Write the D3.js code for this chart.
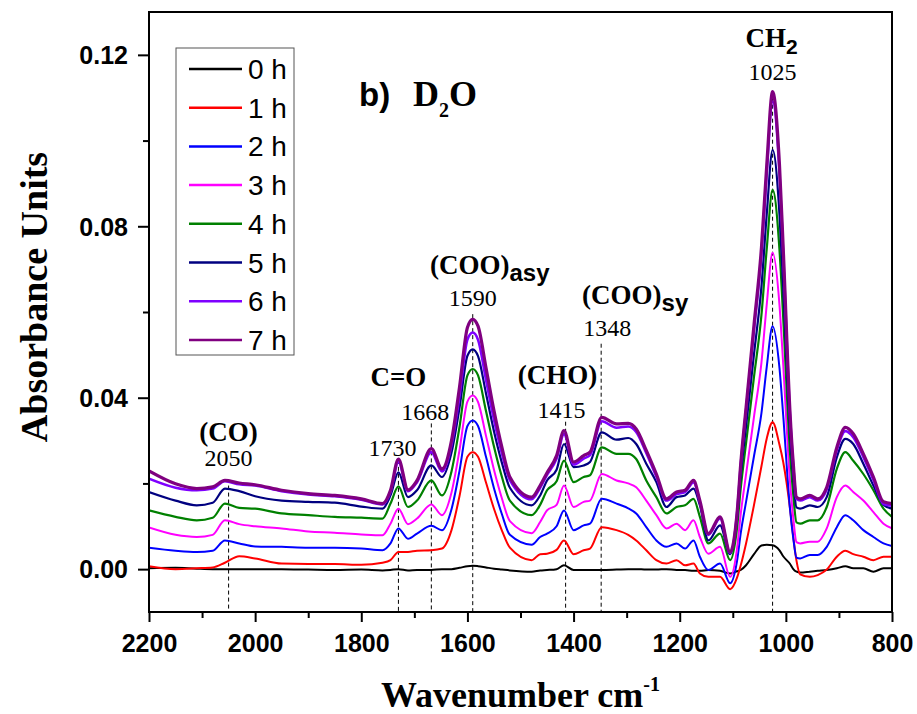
<!DOCTYPE html>
<html>
<head>
<meta charset="utf-8">
<script src="https://cdn.jsdelivr.net/npm/d3@7"></script>
<style>
  body { margin: 0; background: #fff; }
  svg { display: block; }
  .axis .tick text { font-family: "Liberation Sans", Arial, sans-serif; font-weight: bold; font-size: 25px; fill: #000; }
  .axis .tick line { stroke: #000; stroke-width: 2; }
  .serif { font-family: "Liberation Serif", "Times New Roman", serif; }
  .sans { font-family: "Liberation Sans", Arial, sans-serif; }
</style>
</head>
<body>
<svg id="chart" width="917" height="714"></svg>
<script>
(function(){
  // wavenumber grid (cm-1) shared by all spectra
  var wavenumbers = [2200, 2150, 2110, 2080, 2057, 2030, 2000, 1950, 1900, 1850,
    1800, 1760, 1745, 1730, 1712, 1695, 1668, 1648, 1630, 1615,
    1600, 1590, 1580, 1565, 1550, 1535, 1520, 1479, 1463, 1450,
    1432, 1418, 1400, 1381, 1369, 1347, 1319, 1297, 1282, 1263,
    1244, 1225, 1206, 1190, 1174, 1162, 1146, 1124, 1105, 1092,
    1085, 1075, 1060, 1046, 1036, 1025, 1012, 1005, 992, 986,
    980, 973, 955, 940, 923, 904, 888, 873, 854, 835,
    816, 800];

  var h0 = [0.0002, 0.0003, 0.0001, 0.0000, 0.0000, 0.0000, 0.0000, 0.0000, -0.0001, -0.0002,
    -0.0001, -0.0003, -0.0002, 0.0000, -0.0003, -0.0002, -0.0002, 0.0000, 0.0000, 0.0003,
    0.0007, 0.0008, 0.0007, 0.0004, 0.0001, -0.0001, -0.0003, -0.0006, -0.0003, -0.0002,
    0.0000, 0.0009, -0.0002, -0.0002, -0.0002, -0.0002, -0.0001, 0.0000, 0.0000, -0.0001,
    -0.0001, 0.0000, -0.0002, -0.0002, -0.0004, -0.0004, -0.0002, -0.0004, -0.0010, -0.0005,
    -0.0002, 0.0009, 0.0035, 0.0055, 0.0057, 0.0056, 0.0044, 0.0030, 0.0012, 0.0000,
    -0.0006, -0.0008, -0.0006, -0.0004, -0.0002, 0.0002, 0.0007, 0.0002, 0.0002, -0.0006,
    0.0002, 0.0002];

  var h1 = [0.0007, 0.0000, 0.0002, 0.0004, 0.0015, 0.0030, 0.0025, 0.0013, 0.0012, 0.0012,
    0.0010, 0.0015, 0.0021, 0.0040, 0.0040, 0.0043, 0.0044, 0.0048, 0.0091, 0.0170,
    0.0262, 0.0273, 0.0262, 0.0202, 0.0141, 0.0090, 0.0050, 0.0021, 0.0035, 0.0036,
    0.0045, 0.0067, 0.0035, 0.0044, 0.0048, 0.0098, 0.0091, 0.0080, 0.0067, 0.0044,
    0.0021, 0.0013, 0.0021, 0.0009, 0.0013, -0.0010, -0.0018, -0.0018, -0.0047, -0.0020,
    0.0009, 0.0060, 0.0150, 0.0240, 0.0305, 0.0343, 0.0290, 0.0250, 0.0140, 0.0075,
    0.0020, -0.0012, -0.0018, -0.0014, -0.0001, 0.0029, 0.0043, 0.0035, 0.0029, 0.0021,
    0.0029, 0.0029];

  var h2 = [0.0050, 0.0043, 0.0040, 0.0043, 0.0067, 0.0060, 0.0053, 0.0052, 0.0050, 0.0050,
    0.0048, 0.0044, 0.0060, 0.0095, 0.0071, 0.0083, 0.0101, 0.0091, 0.0140, 0.0229,
    0.0334, 0.0347, 0.0334, 0.0262, 0.0189, 0.0128, 0.0080, 0.0057, 0.0075, 0.0083,
    0.0100, 0.0137, 0.0091, 0.0102, 0.0106, 0.0164, 0.0153, 0.0142, 0.0130, 0.0098,
    0.0067, 0.0052, 0.0060, 0.0048, 0.0067, 0.0029, -0.0002, 0.0013, -0.0033, 0.0019,
    0.0084, 0.0157, 0.0264, 0.0364, 0.0472, 0.0567, 0.0469, 0.0359, 0.0138, 0.0072,
    0.0027, 0.0025, 0.0033, 0.0033, 0.0052, 0.0098, 0.0126, 0.0114, 0.0091, 0.0075,
    0.0060, 0.0054];

  var h3 = [0.0097, 0.0080, 0.0075, 0.0080, 0.0114, 0.0105, 0.0100, 0.0095, 0.0088, 0.0085,
    0.0081, 0.0079, 0.0106, 0.0141, 0.0105, 0.0118, 0.0151, 0.0126, 0.0179, 0.0277,
    0.0391, 0.0405, 0.0390, 0.0311, 0.0232, 0.0165, 0.0112, 0.0084, 0.0110, 0.0137,
    0.0150, 0.0195, 0.0145, 0.0157, 0.0160, 0.0222, 0.0207, 0.0200, 0.0191, 0.0160,
    0.0126, 0.0095, 0.0106, 0.0091, 0.0114, 0.0075, 0.0036, 0.0052, -0.0018, 0.0048,
    0.0129, 0.0221, 0.0356, 0.0482, 0.0618, 0.0738, 0.0616, 0.0478, 0.0201, 0.0119,
    0.0063, 0.0060, 0.0064, 0.0064, 0.0095, 0.0168, 0.0195, 0.0180, 0.0160, 0.0133,
    0.0106, 0.0095];

  var h4 = [0.0137, 0.0122, 0.0114, 0.0120, 0.0153, 0.0143, 0.0141, 0.0130, 0.0126, 0.0122,
    0.0120, 0.0118, 0.0153, 0.0193, 0.0145, 0.0160, 0.0207, 0.0172, 0.0228, 0.0331,
    0.0452, 0.0467, 0.0452, 0.0369, 0.0286, 0.0215, 0.0160, 0.0126, 0.0150, 0.0184,
    0.0205, 0.0253, 0.0203, 0.0215, 0.0219, 0.0284, 0.0269, 0.0269, 0.0257, 0.0207,
    0.0168, 0.0130, 0.0145, 0.0149, 0.0164, 0.0122, 0.0060, 0.0083, 0.0021, 0.0096,
    0.0189, 0.0294, 0.0449, 0.0593, 0.0748, 0.0885, 0.0745, 0.0587, 0.0268, 0.0173,
    0.0109, 0.0106, 0.0114, 0.0114, 0.0145, 0.0234, 0.0273, 0.0253, 0.0222, 0.0184,
    0.0141, 0.0122];

  var h5 = [0.0180, 0.0160, 0.0149, 0.0155, 0.0188, 0.0182, 0.0170, 0.0160, 0.0157, 0.0155,
    0.0146, 0.0141, 0.0172, 0.0226, 0.0168, 0.0184, 0.0242, 0.0215, 0.0272, 0.0376,
    0.0498, 0.0513, 0.0497, 0.0410, 0.0322, 0.0248, 0.0190, 0.0149, 0.0172, 0.0207,
    0.0232, 0.0292, 0.0238, 0.0242, 0.0250, 0.0319, 0.0302, 0.0306, 0.0292, 0.0246,
    0.0203, 0.0145, 0.0168, 0.0172, 0.0188, 0.0149, 0.0067, 0.0102, 0.0035, 0.0117,
    0.0219, 0.0333, 0.0502, 0.0659, 0.0828, 0.0978, 0.0827, 0.0657, 0.0315, 0.0213,
    0.0144, 0.0141, 0.0149, 0.0145, 0.0168, 0.0261, 0.0304, 0.0292, 0.0246, 0.0195,
    0.0150, 0.0141];

  var h6 = [0.0211, 0.0190, 0.0184, 0.0188, 0.0205, 0.0198, 0.0195, 0.0182, 0.0174, 0.0170,
    0.0162, 0.0151, 0.0180, 0.0250, 0.0182, 0.0203, 0.0273, 0.0228, 0.0290, 0.0403,
    0.0536, 0.0552, 0.0535, 0.0442, 0.0349, 0.0270, 0.0208, 0.0163, 0.0190, 0.0220,
    0.0258, 0.0315, 0.0244, 0.0258, 0.0266, 0.0345, 0.0330, 0.0333, 0.0320, 0.0271,
    0.0216, 0.0160, 0.0175, 0.0180, 0.0202, 0.0156, 0.0080, 0.0118, 0.0038, 0.0130,
    0.0243, 0.0371, 0.0559, 0.0735, 0.0924, 0.1091, 0.0923, 0.0734, 0.0354, 0.0240,
    0.0164, 0.0160, 0.0168, 0.0160, 0.0186, 0.0278, 0.0322, 0.0308, 0.0262, 0.0208,
    0.0152, 0.0148];

  var h7 = [0.0229, 0.0199, 0.0188, 0.0192, 0.0207, 0.0201, 0.0197, 0.0184, 0.0176, 0.0172,
    0.0164, 0.0153, 0.0184, 0.0257, 0.0185, 0.0207, 0.0281, 0.0234, 0.0300, 0.0424,
    0.0564, 0.0583, 0.0567, 0.0470, 0.0370, 0.0284, 0.0215, 0.0168, 0.0195, 0.0225,
    0.0265, 0.0323, 0.0250, 0.0265, 0.0273, 0.0354, 0.0339, 0.0340, 0.0327, 0.0277,
    0.0222, 0.0164, 0.0180, 0.0184, 0.0207, 0.0160, 0.0083, 0.0122, 0.0040, 0.0130,
    0.0246, 0.0377, 0.0570, 0.0750, 0.0943, 0.1114, 0.0943, 0.0750, 0.0362, 0.0246,
    0.0168, 0.0164, 0.0172, 0.0164, 0.0191, 0.0284, 0.0331, 0.0316, 0.0269, 0.0215,
    0.0157, 0.0153];

  var seriesNames = ['0 h', '1 h', '2 h', '3 h', '4 h', '5 h', '6 h', '7 h'];
  var seriesValues = [h0, h1, h2, h3, h4, h5, h6, h7];

  var xTicks = [2200, 2000, 1800, 1600, 1400, 1200, 1000, 800];
  var xMinorTicks = [2100, 1900, 1700, 1500, 1300, 1100, 900];
  var yTicks = [0.00, 0.04, 0.08, 0.12];
  var yMinorTicks = [0.02, 0.06, 0.10];

  // band assignments: marked wavenumbers and group names
  var bandPositions = [2050, 1730, 1668, 1590, 1415, 1348, 1025];
  var groupNames = ['(CO)', 'C=O', '(COO)', '(CHO)', '(COO)', 'CH'];
  var groupSubs = ['', '', 'asy', '', 'sy', '2'];
  var groupBands = [2050, 1730, 1590, 1415, 1348, 1025];

  // styles / layout
  var colors = ['#000000', '#ff0000', '#0000ff', '#ff00ff', '#008000', '#000080', '#7f00ff', '#800080'];
  var widths = [2, 2, 2, 2, 2.2, 2.2, 2.6, 3.2];
  var bandTop = [0.0195, 0.0255, 0.0340, 0.0595, 0.0344, 0.0526, 0.1100];
  var bandLabelLevel = [0.0240, 0.0265, 0.0349, 0.0614, 0.0353, 0.0544, 0.1142];
  var bandLabelShift = [0, -6, -6, 0, -4, 6, 0];
  var groupLevel = [0.0300, 0.0428, 0.0688, 0.0433, 0.0619, 0.1219];
  var groupShift = [0, 0, 17, -8, 34, -1];

  var left = 149, right = 892, top = 12, bottom = 612;

  var svg = d3.select('#chart');

  var x = d3.scaleLinear().domain([2200, 800]).range([left, right]);
  var y = d3.scaleLinear().domain([-0.01, 0.13]).range([bottom, top]);

  svg.append('defs').append('clipPath').attr('id', 'plot-clip')
    .append('rect')
    .attr('x', left).attr('y', top)
    .attr('width', right - left).attr('height', bottom - top);

  // Axes
  var xAxis = svg.append('g')
    .attr('class', 'axis')
    .attr('transform', 'translate(0,' + bottom + ')')
    .call(d3.axisBottom(x).tickValues(xTicks).tickSize(10).tickFormat(d3.format('d')));
  xAxis.select('.domain').remove();
  xAxis.selectAll('.tick text').attr('y', 40).attr('dy', 0);

  var xMinor = svg.append('g')
    .attr('class', 'axis')
    .attr('transform', 'translate(0,' + bottom + ')')
    .call(d3.axisBottom(x).tickValues(xMinorTicks).tickSize(6).tickFormat(''));
  xMinor.select('.domain').remove();

  var yAxis = svg.append('g')
    .attr('class', 'axis')
    .attr('transform', 'translate(' + left + ',0)')
    .call(d3.axisLeft(y).tickValues(yTicks).tickSize(11).tickFormat(d3.format('.2f')));
  yAxis.select('.domain').remove();
  yAxis.selectAll('.tick text').attr('x', -21).attr('dy', '0.35em');

  var yMinor = svg.append('g')
    .attr('class', 'axis')
    .attr('transform', 'translate(' + left + ',0)')
    .call(d3.axisLeft(y).tickValues(yMinorTicks).tickSize(6).tickFormat(''));
  yMinor.select('.domain').remove();

  // Band marker lines
  svg.append('g')
    .selectAll('line')
    .data(bandPositions)
    .enter()
    .append('line')
    .attr('x1', function(d) {return x(d);})
    .attr('x2', function(d) {return x(d);})
    .attr('y1', function(d, i) {return y(bandTop[i]);})
    .attr('y2', bottom)
    .attr('stroke', '#000')
    .attr('stroke-width', 1)
    .attr('stroke-dasharray', '4,3');

  // Spectra
  var line = d3.line()
    .x(function(d, i) {return x(wavenumbers[i]);})
    .y(function(d) {return y(d);})
    .curve(d3.curveMonotoneX);

  svg.append('g')
    .attr('clip-path', 'url(#plot-clip)')
    .selectAll('path')
    .data(seriesValues)
    .enter()
    .append('path')
    .attr('d', line)
    .attr('fill', 'none')
    .attr('stroke', function(d, i) {return colors[i];})
    .attr('stroke-width', function(d, i) {return widths[i];})
    .attr('stroke-linejoin', 'round');

  // Frame
  svg.append('rect')
    .attr('x', left).attr('y', top)
    .attr('width', right - left).attr('height', bottom - top)
    .attr('fill', 'none')
    .attr('stroke', '#000')
    .attr('stroke-width', 2);

  // Band numbers
  svg.append('g')
    .selectAll('text')
    .data(bandPositions)
    .enter()
    .append('text')
    .attr('class', 'serif')
    .attr('x', function(d, i) {return x(d) + bandLabelShift[i];})
    .attr('y', function(d, i) {return y(bandLabelLevel[i]);})
    .attr('text-anchor', 'middle')
    .attr('font-size', 24)
    .text(function(d) {return d;});

  // Group names
  var groups = svg.append('g')
    .selectAll('text')
    .data(groupNames)
    .enter()
    .append('text')
    .attr('class', 'serif')
    .attr('x', function(d, i) {return x(groupBands[i]) + groupShift[i];})
    .attr('y', function(d, i) {return y(groupLevel[i]);})
    .attr('text-anchor', 'middle')
    .attr('font-weight', 'bold')
    .attr('font-size', 27);
  groups.append('tspan').text(function(d) {return d;});
  groups.append('tspan')
    .attr('class', 'sans')
    .attr('font-size', function(d, i) {return groupSubs[i] === '2' ? 21 : 24;})
    .attr('dy', 7)
    .text(function(d, i) {return groupSubs[i];});

  // Panel title
  var title = svg.append('text')
    .attr('x', 359)
    .attr('y', 106)
    .attr('font-weight', 'bold');
  title.append('tspan').attr('class', 'sans').attr('font-size', 33).text('b)');
  title.append('tspan').attr('class', 'serif').attr('x', 413).attr('font-size', 36).text('D');
  title.append('tspan').attr('class', 'serif').attr('font-size', 20).attr('dy', 11).text('2');
  title.append('tspan').attr('class', 'serif').attr('font-size', 36).attr('dy', -11).text('O');

  // Legend
  var legend = svg.append('g');
  legend.append('rect')
    .attr('x', 176).attr('y', 48)
    .attr('width', 118).attr('height', 307)
    .attr('fill', '#fff')
    .attr('stroke', '#555')
    .attr('stroke-width', 1);

  var items = legend.selectAll('g.item')
    .data(seriesNames)
    .enter()
    .append('g')
    .attr('class', 'item')
    .attr('transform', function(d, i) {return 'translate(0,' + (69 + i * 38.7) + ')';});
  items.append('line')
    .attr('x1', 189).attr('x2', 242)
    .attr('stroke', function(d, i) {return colors[i];})
    .attr('stroke-width', 2.5);
  items.append('text')
    .attr('class', 'sans')
    .attr('x', 248)
    .attr('dy', '0.36em')
    .attr('font-size', 28)
    .text(function(d) {return d;});

  // Axis titles
  var xTitle = svg.append('text')
    .attr('class', 'serif')
    .attr('x', (left + right) / 2)
    .attr('y', 707)
    .attr('text-anchor', 'middle')
    .attr('font-weight', 'bold')
    .attr('font-size', 36);
  xTitle.append('tspan').text('Wavenumber cm');
  xTitle.append('tspan').attr('font-size', 20).attr('dy', -16).text('-1');

  svg.append('text')
    .attr('class', 'serif')
    .attr('transform', 'translate(47,' + ((top + bottom) / 2 - 15) + ') rotate(-90)')
    .attr('text-anchor', 'middle')
    .attr('font-weight', 'bold')
    .attr('font-size', 38)
    .text('Absorbance Units');
})();
</script>
</body>
</html>
